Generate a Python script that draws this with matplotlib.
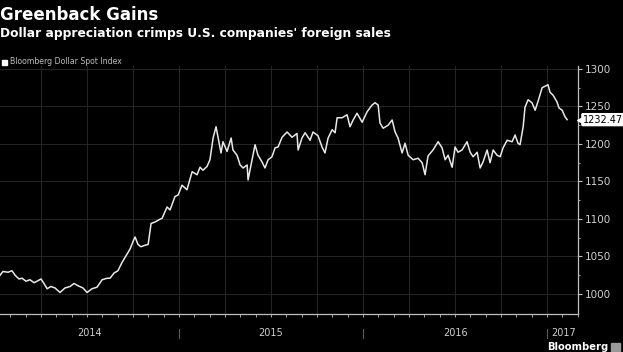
import matplotlib
matplotlib.use("Agg")
import matplotlib.pyplot as plt
import matplotlib.transforms as mtransforms
import numpy as np

# Bloomberg Dollar Spot Index (decimal years, index level)
years = [
    2014.027, 2014.043, 2014.071, 2014.092, 2014.109, 2014.130, 2014.147, 2014.168,
    2014.190, 2014.212, 2014.228, 2014.250, 2014.266, 2014.283, 2014.304, 2014.326,
    2014.353, 2014.380, 2014.408, 2014.429, 2014.451, 2014.478, 2014.500, 2014.527,
    2014.554, 2014.582, 2014.609, 2014.625, 2014.647, 2014.668, 2014.690, 2014.712,
    2014.734, 2014.750, 2014.761, 2014.777, 2014.793, 2014.815, 2014.832, 2014.848,
    2014.870, 2014.891, 2014.908, 2014.935, 2014.951, 2014.978, 2014.995, 2015.016,
    2015.043, 2015.071, 2015.098, 2015.114, 2015.130, 2015.152, 2015.168, 2015.185,
    2015.201, 2015.212, 2015.228, 2015.239, 2015.261, 2015.283, 2015.293, 2015.315,
    2015.332, 2015.348, 2015.370, 2015.375, 2015.397, 2015.413, 2015.429, 2015.451,
    2015.467, 2015.484, 2015.505, 2015.522, 2015.538, 2015.560, 2015.587, 2015.614,
    2015.641, 2015.647, 2015.668, 2015.685, 2015.712, 2015.728, 2015.755, 2015.777,
    2015.793, 2015.810, 2015.832, 2015.848, 2015.859, 2015.886, 2015.913, 2015.929,
    2015.946, 2015.967, 2015.995, 2016.022, 2016.049, 2016.065, 2016.082, 2016.092,
    2016.109, 2016.136, 2016.158, 2016.174, 2016.190, 2016.212, 2016.228, 2016.245,
    2016.272, 2016.299, 2016.321, 2016.337, 2016.353, 2016.380, 2016.408, 2016.429,
    2016.446, 2016.462, 2016.484, 2016.500, 2016.516, 2016.538, 2016.565, 2016.582,
    2016.598, 2016.620, 2016.636, 2016.652, 2016.674, 2016.690, 2016.707, 2016.728,
    2016.745, 2016.761, 2016.783, 2016.810, 2016.826, 2016.842, 2016.853, 2016.870,
    2016.880, 2016.897, 2016.918, 2016.935, 2016.951, 2016.973, 2016.989, 2017.005,
    2017.016, 2017.033, 2017.054, 2017.065, 2017.082, 2017.098, 2017.109,
]
index_level = [
    1025, 1030, 1029, 1031, 1025, 1020, 1021, 1017,
    1019, 1015, 1017, 1020, 1014, 1007, 1010, 1008,
    1002, 1008, 1010, 1014, 1011, 1008, 1002, 1007,
    1009, 1019, 1021, 1021, 1028, 1031, 1042, 1051,
    1060, 1070, 1076, 1066, 1063, 1065, 1066, 1094,
    1096, 1099, 1101, 1116, 1112, 1130, 1132, 1145,
    1139, 1163, 1159, 1169, 1165, 1170, 1179, 1208,
    1223, 1209, 1188, 1203, 1190, 1208, 1192, 1185,
    1172, 1168, 1172, 1152, 1179, 1199, 1185, 1176,
    1168, 1179, 1183, 1195, 1196, 1209, 1216, 1209,
    1214, 1192, 1208, 1215, 1205, 1216, 1211, 1196,
    1188, 1208, 1219, 1215, 1235, 1235, 1239, 1223,
    1232, 1241, 1229, 1243, 1252, 1255, 1252, 1228,
    1221, 1225, 1232, 1216, 1208, 1188, 1201, 1185,
    1179, 1181, 1175, 1159, 1184, 1192, 1203, 1195,
    1179, 1185, 1169, 1196, 1189, 1192, 1203, 1189,
    1183, 1189, 1168, 1176, 1192, 1175, 1192, 1185,
    1183, 1195, 1205, 1203, 1212, 1201, 1199, 1223,
    1249, 1259, 1255, 1245, 1257, 1275, 1277, 1279,
    1269, 1265, 1256, 1248, 1245, 1236, 1232.47,
]
last_label = "1232.47"
year_labels = ["2014", "2015", "2016", "2017"]
y_ticks = [1000, 1050, 1100, 1150, 1200, 1250, 1300]

title = "Greenback Gains"
subtitle = "Dollar appreciation crimps U.S. companies' foreign sales"
legend_text = "Bloomberg Dollar Spot Index"

plt.rcParams['font.family'] = ['DejaVu Sans']

fig = plt.figure(figsize=(6.23, 3.52), dpi=100, facecolor='black')
ax = fig.add_axes([0.0, 1 - 314 / 352, 578 / 623, 248 / 352])
ax.set_facecolor('black')

# grid
grid_col = '#262626'
for q in np.arange(2014.25, 2017.01, 0.25):
    ax.axvline(q, color=grid_col, lw=0.7, zorder=1)
for yt in y_ticks:
    ax.axhline(yt, color=grid_col, lw=0.7, zorder=1)

ax.plot(years, index_level, color='#e8e8e8', lw=1.1, zorder=3)

ax.set_xlim(2014.027, 2017.168)
ax.set_ylim(973.3, 1304)

for side in ['left', 'top']:
    ax.spines[side].set_visible(False)
for side in ['right', 'bottom']:
    ax.spines[side].set_color('#bfbfbf')
    ax.spines[side].set_linewidth(0.9)

ax.yaxis.tick_right()
ax.set_yticks(y_ticks)
ax.set_yticks(np.arange(1025, 1300, 50), minor=True)
ax.tick_params(axis='y', which='major', colors='#bfbfbf', labelcolor='#d0d0d0',
               length=3, width=0.8, labelsize=7.5, pad=2)
ax.tick_params(axis='y', which='minor', colors='#bfbfbf', length=1.5, width=0.6)

months = np.arange(2014 + 1 / 12, 2017.17, 1 / 12)
ax.set_xticks(months)
ax.set_xticklabels([])
ax.tick_params(axis='x', which='major', colors='#bfbfbf', length=2, width=0.6)

# year labels and separators under the axis
trans = mtransforms.blended_transform_factory(ax.transData, ax.transAxes)
year_pos = [(2014.027 + 2015) / 2, 2015.5, 2016.5]
for i, lab in enumerate(year_labels[:3]):
    ax.text(year_pos[i], -0.077, lab, transform=trans, ha='center', va='center',
            color='#cfcfcf', fontsize=7)
ax.text(2017.02, -0.077, year_labels[3], transform=trans, ha='left', va='center',
        color='#cfcfcf', fontsize=7)
for yr in [2015, 2016, 2017]:
    ax.plot([yr, yr], [-0.06, -0.097], transform=trans, color='#5a5a5a',
            lw=0.8, clip_on=False)

# last value tag
ax.annotate(last_label, xy=(1.0, index_level[-1]),
            xycoords=('axes fraction', 'data'),
            xytext=(3.5, 0), textcoords='offset points',
            ha='left', va='center', fontsize=7, color='black',
            bbox=dict(boxstyle='round,pad=0.1', fc='white', ec='white'),
            annotation_clip=False, zorder=5)
ax.plot([1.004], [index_level[-1]], marker='<', ms=4, color='white',
        transform=mtransforms.blended_transform_factory(ax.transAxes, ax.transData),
        clip_on=False, zorder=5)

# titles
fig.text(0.0, 1 - 20 / 352, title, color='white', fontsize=12, fontweight='bold',
         ha='left', va='baseline')
fig.text(0.0, 1 - 37.5 / 352, subtitle, color='white', fontsize=8.8, fontweight='bold',
         ha='left', va='baseline')
fig.patches.append(plt.Rectangle((2 / 623, 1 - 64.5 / 352), 5 / 623, 5 / 352,
                                 transform=fig.transFigure, color='white'))
fig.text(10 / 623, 1 - 62 / 352, legend_text, color='#bdbdbd', fontsize=5.6,
         ha='left', va='center')

fig.text(547 / 623, 1 - 347 / 352, "Bloomberg", color='white', fontsize=7.2,
         fontweight='bold', ha='left', va='center')
fig.patches.append(plt.Rectangle((611 / 623, 1 - 351 / 352), 9 / 623, 8 / 352,
                                 transform=fig.transFigure, color='#9a9a9a'))

fig.savefig('out.png', dpi=100, facecolor='black')
